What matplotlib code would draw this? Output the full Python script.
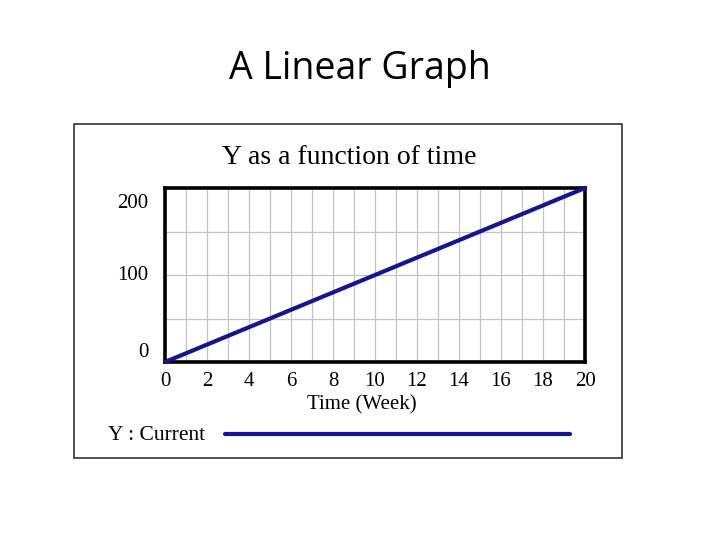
import matplotlib
matplotlib.use("Agg")
import matplotlib.pyplot as plt
from matplotlib.patches import Rectangle
from matplotlib.lines import Line2D

# Data
weeks = [0, 1, 2, 3, 4, 5, 6, 7, 8, 9, 10, 11, 12, 13, 14, 15, 16, 17, 18, 19, 20]
y_current = [0, 10, 20, 30, 40, 50, 60, 70, 80, 90, 100, 110, 120, 130, 140, 150, 160, 170, 180, 190, 200]
x_ticks = [0, 2, 4, 6, 8, 10, 12, 14, 16, 18, 20]
y_ticks = [0, 100, 200]
y_tick_labels = ["0", "100", "200"]
y_grid = [0, 50, 100, 150, 200]

W, H = 720, 540
fig = plt.figure(figsize=(7.2, 5.4), dpi=100)
fig.patch.set_facecolor("white")

def fx(px):
    return px / W

def fy(py):
    return 1 - py / H

serif = ["Liberation Serif", "DejaVu Serif"]
line_color = "#16168a"

# Slide title
fig.text(fx(360), fy(69), "A Linear Graph", ha="center", va="center",
         fontsize=27, family=["Open Sans", "DejaVu Sans"], color="black")

# Image border
fig.add_artist(Rectangle((fx(74), fy(458)), fx(622) - fx(74), fy(124) - fy(458),
                         transform=fig.transFigure, fill=False, edgecolor="#333333", lw=1.2))

# Axes
left, right, top, bottom = 165, 585, 188, 362
ax = fig.add_axes([fx(left), fy(bottom), fx(right - left), fy(top) - fy(bottom)])
ax.plot(weeks, y_current, color=line_color, lw=3.0, solid_capstyle="round", clip_on=False, zorder=3)
ax.set_xlim(0, 20)
ax.set_ylim(0, 200)
ax.set_xticks(weeks)
ax.set_yticks(y_grid)
ax.grid(True, color="#c4c4c4", lw=0.9)
ax.tick_params(length=0, labelleft=False, labelbottom=False)
for s in ax.spines.values():
    s.set_linewidth(2.6)
    s.set_color("black")

# tick labels
for t in x_ticks:
    ax.annotate(str(t), xy=(t, 0), xycoords=("data", "axes fraction"), xytext=(0, -7),
                textcoords="offset points", ha="center", va="top", fontsize=15, family=serif)
for v, lab in zip(y_ticks, y_tick_labels):
    va = "bottom" if v == 0 else ("top" if v == 200 else "center")
    dy = 0 if v == 0 else (-4 if v == 200 else 0)
    ax.annotate(lab, xy=(0, v), xycoords=("axes fraction", "data"), xytext=(-12, dy),
                textcoords="offset points", ha="right", va=va, fontsize=15, family=serif)

# Chart title and axis label
fig.text(fx(349), fy(158), "Y as a function of time", ha="center", va="center",
         fontsize=20, family=serif)
fig.text(fx(362), fy(405), "Time (Week)", ha="center", va="center",
         fontsize=15, family=serif)

# Legend
fig.text(fx(108), fy(436), "Y : Current", ha="left", va="center", fontsize=15.5, family=serif)
fig.add_artist(Line2D([fx(225), fx(570)], [fy(434), fy(434)], transform=fig.transFigure,
                      color=line_color, lw=3.0, solid_capstyle="round"))

fig.savefig("out.png", dpi=100)
